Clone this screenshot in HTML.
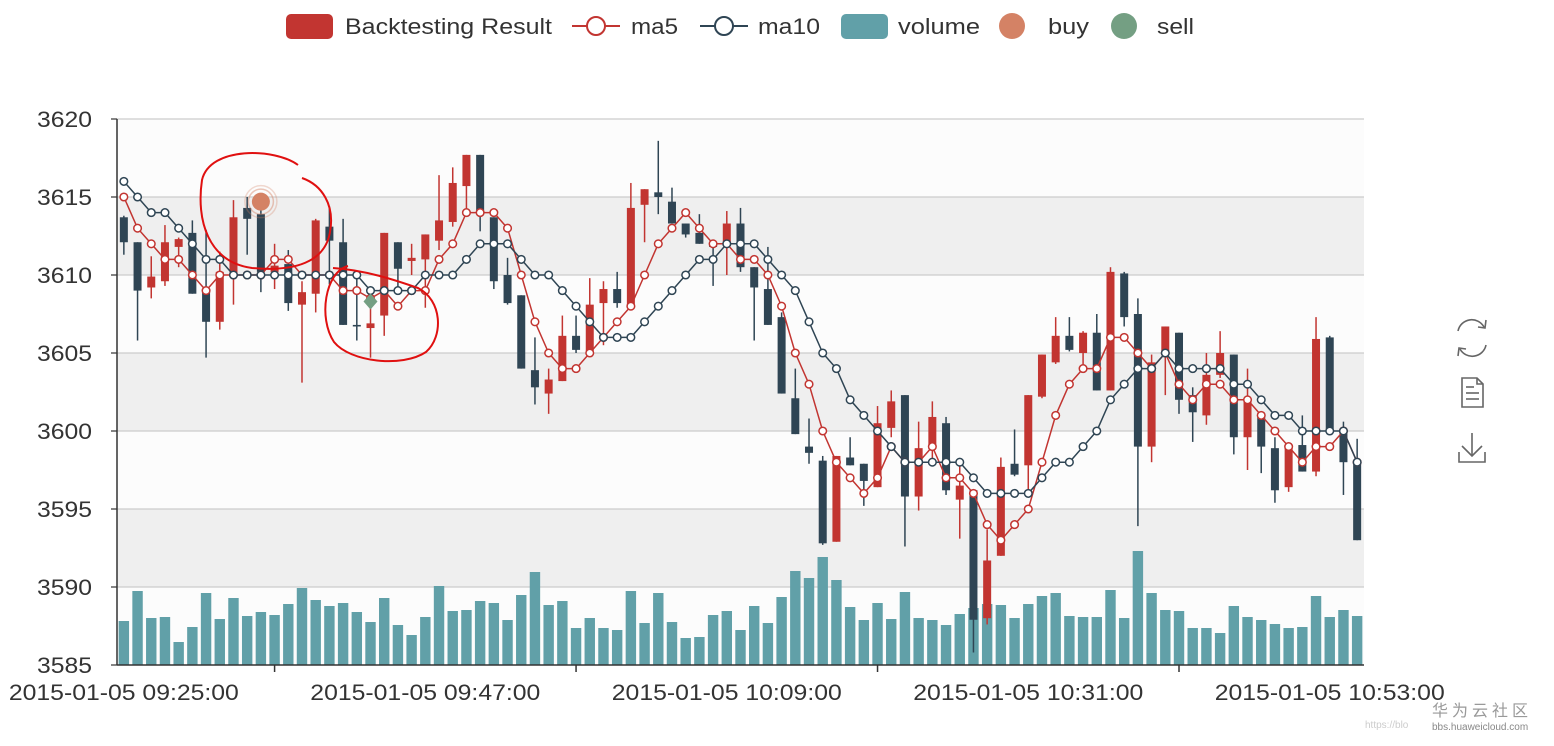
<!DOCTYPE html>
<html><head><meta charset="utf-8">
<style>
html,body{margin:0;padding:0;background:#fff;}
body{width:1554px;height:741px;overflow:hidden;font-family:"Liberation Sans","Noto Sans CJK SC",sans-serif;}
svg text{font-family:"Liberation Sans","Noto Sans CJK SC",sans-serif;}
</style></head>
<body>
<svg id="chart" width="1554" height="741" xmlns="http://www.w3.org/2000/svg">
  <g id="bands"></g>
  <g id="grid"></g>
  <g id="vol"></g>
  <g id="candles"></g>
  <g id="ma5"></g>
  <g id="ma10"></g>
  <g id="marks"></g>
  <g id="axes"></g>
  <g id="legend">
    <g>
      <rect x="286" y="14" width="47" height="25" rx="5" fill="#c23531"/>
      <text x="345" y="34" font-size="22" fill="#333" textLength="207" lengthAdjust="spacingAndGlyphs">Backtesting Result</text>
    </g>
    <g>
      <line x1="572" y1="26" x2="620" y2="26" stroke="#c23531" stroke-width="2"/>
      <circle cx="596" cy="26" r="9" fill="#fff" stroke="#c23531" stroke-width="2"/>
      <text x="631" y="34" font-size="22" fill="#333" textLength="47" lengthAdjust="spacingAndGlyphs">ma5</text>
    </g>
    <g>
      <line x1="700" y1="26" x2="748" y2="26" stroke="#2f4554" stroke-width="2"/>
      <circle cx="724" cy="26" r="9" fill="#fff" stroke="#2f4554" stroke-width="2"/>
      <text x="758" y="34" font-size="22" fill="#333" textLength="62" lengthAdjust="spacingAndGlyphs">ma10</text>
    </g>
    <g>
      <rect x="841" y="14" width="47" height="25" rx="5" fill="#61a0a8"/>
      <text x="898" y="34" font-size="22" fill="#333" textLength="82" lengthAdjust="spacingAndGlyphs">volume</text>
    </g>
    <g>
      <circle cx="1012" cy="26" r="13" fill="#d48265"/>
      <text x="1048" y="34" font-size="22" fill="#333" textLength="41" lengthAdjust="spacingAndGlyphs">buy</text>
    </g>
    <g>
      <circle cx="1124" cy="26" r="13" fill="#749f83"/>
      <text x="1157" y="34" font-size="22" fill="#333" textLength="37" lengthAdjust="spacingAndGlyphs">sell</text>
    </g>
  </g>
  <g fill="none" stroke="#666" stroke-width="1.6">
    <g>
      <path d="M1458 331 A14 14 0 0 1 1484 327"/><path d="M1486 320 L1485 328 L1478 327"/>
      <path d="M1486 345 A14 14 0 0 1 1460 349"/><path d="M1458 356 L1459 348 L1466 349"/>
    </g>
    <g>
      <path d="M1462 378 L1477 378 L1483 384 L1483 407 L1462 407 Z"/>
      <path d="M1477 378 L1477 384 L1483 384"/>
      <line x1="1466" y1="387" x2="1474" y2="387"/><line x1="1466" y1="393" x2="1479" y2="393"/><line x1="1466" y1="399" x2="1479" y2="399"/>
    </g>
    <g>
      <line x1="1472" y1="433" x2="1472" y2="456"/><path d="M1462 446 L1472 456 L1482 446"/>
      <path d="M1459 452 L1459 462 L1485 462 L1485 452"/>
    </g>
  </g>
  <g fill="none" stroke="#e01010" stroke-width="2">
    <path d="M298 165 C275 148 210 146 202 180 C196 220 208 262 252 268 C295 272 325 262 330 232 C335 205 322 185 302 178"/>
    <path d="M348 266 C325 272 318 318 334 342 C350 362 402 368 426 352 C444 336 442 300 418 288 C395 280 365 270 333 268"/>
  </g>
  <g>
    <text x="1432" y="716" font-size="16" fill="#999" letter-spacing="4">华为云社区</text>
    <text x="1365" y="728" font-size="10" fill="#ccc">https://blo</text>
    <text x="1432" y="730" font-size="10" fill="#888">bbs.huaweicloud.com</text>
  </g>
</svg>
<script>
// [open, close, low, high]
const ohlc = [
[3613.7,3612.1,3611.3,3613.8],[3612.1,3609.0,3605.8,3612.1],[3609.2,3609.9,3608.5,3611.2],[3609.6,3612.1,3609.3,3613.2],
[3611.8,3612.3,3610.5,3612.4],[3612.7,3608.8,3608.8,3613.5],[3609.1,3607.0,3604.7,3612.9],[3607.0,3610.2,3606.5,3611.5],
[3610.1,3613.7,3608.1,3614.8],[3614.3,3613.6,3611.3,3615.0],[3613.9,3610.2,3608.9,3614.2],[3610.2,3610.6,3609.1,3612.0],
[3610.7,3608.2,3607.7,3611.6],[3608.1,3608.9,3603.1,3609.6],[3608.8,3613.5,3607.6,3613.6],[3613.1,3612.2,3609.4,3614.4],
[3612.1,3606.8,3606.8,3613.6],[3606.8,3606.7,3605.8,3610.0],[3606.6,3606.9,3604.7,3608.5],[3607.4,3612.7,3606.1,3612.7],
[3612.1,3610.4,3609.0,3612.1],[3610.9,3611.1,3610.0,3612.0],[3611.0,3612.6,3607.9,3612.6],[3612.2,3613.5,3611.6,3616.4],
[3613.4,3615.9,3613.1,3616.9],[3615.7,3617.7,3614.1,3617.7],[3617.7,3614.1,3612.8,3617.7],[3613.7,3609.6,3609.1,3613.7],
[3610.0,3608.2,3608.1,3611.1],[3608.7,3604.0,3604.0,3608.7],[3603.9,3602.8,3601.7,3606.0],[3602.4,3603.3,3601.1,3604.0],
[3603.2,3606.1,3603.2,3607.4],[3606.1,3605.2,3605.0,3607.4],[3605.1,3608.1,3605.1,3609.8],[3608.2,3609.1,3605.5,3609.6],
[3609.1,3608.2,3607.9,3610.2],[3608.1,3614.3,3608.1,3615.9],[3614.5,3615.5,3612.1,3615.5],[3615.3,3615.0,3613.9,3618.6],
[3614.7,3613.3,3613.3,3615.6],[3613.3,3612.6,3612.4,3613.3],[3612.7,3612.0,3612.0,3613.9],[3612.0,3611.8,3609.3,3612.2],
[3612.0,3613.3,3610.0,3614.1],[3613.3,3610.5,3610.2,3614.3],[3610.5,3609.2,3605.8,3610.5],[3609.1,3606.8,3606.8,3611.8],
[3607.3,3602.4,3602.4,3607.6],[3602.1,3599.8,3599.8,3604.0],[3599.0,3598.6,3597.9,3600.8],[3598.1,3592.8,3592.7,3598.4],
[3592.9,3598.4,3592.9,3598.4],[3598.3,3597.8,3597.8,3599.6],[3597.9,3596.8,3595.2,3597.9],[3596.4,3600.5,3596.4,3601.6],
[3600.2,3601.9,3599.6,3602.6],[3602.3,3595.8,3592.6,3602.3],[3595.8,3598.9,3594.9,3600.6],[3599.0,3600.9,3597.9,3601.9],
[3600.5,3596.2,3595.9,3600.9],[3595.6,3596.5,3593.1,3598.2],[3596.2,3587.9,3585.8,3596.2],[3588.0,3591.7,3587.6,3593.7],
[3592.0,3597.7,3592.0,3598.3],[3597.9,3597.2,3597.1,3600.1],[3597.8,3602.3,3596.0,3602.3],[3602.2,3604.9,3602.1,3604.9],
[3604.4,3606.1,3604.3,3607.3],[3606.1,3605.2,3605.1,3607.3],[3605.0,3606.3,3604.2,3606.4],[3606.3,3602.6,3602.6,3607.5],
[3602.6,3610.2,3602.6,3610.5],[3610.1,3607.3,3606.7,3610.2],[3607.5,3599.0,3593.9,3608.5],[3599.0,3604.4,3598.0,3604.9],
[3604.9,3606.7,3602.3,3606.7],[3606.3,3602.0,3601.1,3606.3],[3602.3,3601.2,3599.3,3602.8],[3601.0,3603.6,3600.4,3605.0],
[3603.6,3605.0,3603.4,3606.4],[3604.9,3599.6,3598.5,3604.9],[3599.6,3602.1,3597.5,3604.0],[3601.1,3599.0,3597.3,3601.1],
[3598.9,3596.2,3595.4,3599.6],[3596.4,3599.1,3596.1,3599.1],[3599.1,3597.4,3597.4,3601.0],[3597.4,3605.9,3597.1,3607.3],
[3606.0,3600.1,3600.1,3606.1],[3600.1,3598.0,3595.9,3600.6],[3598.1,3593.0,3593.0,3599.5]
];
const ma5 = [3615,3613,3612,3611,3611,3610,3609,3610,3610,3610,3610,3611,3611,3610,3610,3610,3609,3609,3608.5,3609,
3608,3609,3609,3611,3612,3614,3614,3614,3613,3610,3607,3605,3604,3604,3605,3606,3607,3608,3610,3612,
3613,3614,3613,3612,3612,3611,3611,3610,3608,3605,3603,3600,3598,3597,3596,3597,3599,3598,3598,3599,
3597,3597,3596,3594,3593,3594,3595,3598,3601,3603,3604,3604,3606,3606,3605,3604,3605,3603,3602,3603,
3603,3602,3602,3601,3600,3599,3598,3599,3599,3600,3598];
const ma10 = [3616,3615,3614,3614,3613,3612,3611,3611,3610,3610,3610,3610,3610,3610,3610,3610,3610,3610,3609,3609,
3609,3609,3610,3610,3610,3611,3612,3612,3612,3611,3610,3610,3609,3608,3607,3606,3606,3606,3607,3608,
3609,3610,3611,3611,3612,3612,3612,3611,3610,3609,3607,3605,3604,3602,3601,3600,3599,3598,3598,3598,
3598,3598,3597,3596,3596,3596,3596,3597,3598,3598,3599,3600,3602,3603,3604,3604,3605,3604,3604,3604,
3604,3603,3603,3602,3601,3601,3600,3600,3600,3600,3598];
const volume = [44,74,47,48,23,38,72,46,67,49,53,50,61,77,65,59,62,53,43,67,40,30,48,79,54,55,64,62,45,70,
93,60,64,37,47,37,35,74,42,72,43,27,28,50,54,35,59,42,68,94,87,108,85,58,45,62,46,73,47,45,
40,51,57,61,60,47,61,69,72,49,48,48,75,47,114,72,55,54,37,37,32,59,48,45,41,37,38,69,48,55,49];
const yTicks = [3585,3590,3595,3600,3605,3610,3615,3620];
const buyPoints = [[10,3614.7]];
const sellPoints = [[18,3608.3]];
const startTime = [9,25];

const NS="http://www.w3.org/2000/svg";
const L=117,R=1364,T=119,B=665,YMIN=3585,YMAX=3620,VMAX=546;
const N=ohlc.length, bw=(R-L)/N;
const x=i=>L+(i+0.5)*bw;
const y=v=>B-(v-YMIN)/(YMAX-YMIN)*(B-T);
const vy=v=>B-v/VMAX*(B-T);
function mk(tag,attrs,parent){const e=document.createElementNS(NS,tag);for(const k in attrs)e.setAttribute(k,attrs[k]);parent.appendChild(e);return e;}
const g=id=>document.getElementById(id);
function label(i){let m=startTime[0]*60+startTime[1]+i;const hh=String(Math.floor(m/60)).padStart(2,'0'),mm=String(m%60).padStart(2,'0');return `2015-01-05 ${hh}:${mm}:00`;}

for(let k=0;k<yTicks.length-1;k++){
  const r=mk('rect',{x:L,y:y(yTicks[k+1]),width:R-L,height:y(yTicks[k])-y(yTicks[k+1]),fill:(k%2===0)?'#fcfcfc':'#efefef'},g('bands'));
  
  
}
yTicks.forEach(v=>{
  if(v!==YMIN){const l=mk('line',{x1:L,x2:R,y1:y(v),y2:y(v),stroke:'#ccc','stroke-width':1.2},g('grid'));
  
  }
  const t=mk('text',{x:37,y:y(v)+8,'font-size':22,fill:'#333',textLength:55,lengthAdjust:'spacingAndGlyphs'},g('axes'));
  t.textContent=v;
  
  
  mk('line',{x1:111,x2:L,y1:y(v),y2:y(v),stroke:'#333','stroke-width':1.2},g('axes'));
});
volume.forEach((v,i)=>{
  const r=mk('rect',{x:x(i)-bw*0.38,y:vy(v),width:bw*0.76,height:B-vy(v),fill:'#61a0a8'},g('vol'));
  
  
});
ohlc.forEach((d,i)=>{
  const up=d[1]>=d[0],c=up?'#c23531':'#2f4554';
  const grp=mk('g',{},g('candles'));
  
  
  mk('line',{x1:x(i),x2:x(i),y1:y(d[3]),y2:y(d[2]),stroke:c,'stroke-width':1.5},grp);
  const top=y(Math.max(d[0],d[1])),bot=y(Math.min(d[0],d[1]));
  mk('rect',{x:x(i)-4,y:top,width:8,height:Math.max(bot-top,1.5),fill:c},grp);
});
function drawLine(arr,color,id,name){
  const pts=arr.map((v,i)=>x(i)+','+y(v)).join(' ');
  mk('polyline',{points:pts,fill:'none',stroke:color,'stroke-width':1.5},g(id));
  arr.forEach((v,i)=>{
    const c=mk('circle',{cx:x(i),cy:y(v),r:3.8,fill:'#fff',stroke:color,'stroke-width':1.5},g(id));
    
    
  });
}
drawLine(ma10,'#2f4554','ma10','ma10-point');
drawLine(ma5,'#c23531','ma5','ma5-point');
buyPoints.forEach(p=>{
  const cx=x(p[0]),cy=y(p[1]);
  mk('circle',{cx,cy,r:16,fill:'none',stroke:'#d48265','stroke-opacity':0.3,'stroke-width':1.5},g('marks'));
  mk('circle',{cx,cy,r:12.5,fill:'none',stroke:'#d48265','stroke-opacity':0.45,'stroke-width':1.5},g('marks'));
  const c=mk('circle',{cx,cy,r:9,fill:'#d48265'},g('marks'));
  
  
});
sellPoints.forEach(p=>{
  const cx=x(p[0]),cy=y(p[1]);
  const d=mk('path',{d:`M${cx} ${cy-8} L${cx+7} ${cy} L${cx} ${cy+8} L${cx-7} ${cy} Z`,fill:'#749f83'},g('marks'));
  
  
});
mk('line',{x1:L,x2:L,y1:T,y2:B,stroke:'#333','stroke-width':1.5},g('axes'));
mk('line',{x1:L,x2:R,y1:B,y2:B,stroke:'#333','stroke-width':1.5},g('axes'));
for(let i=0;i<N;i+=22){
  const t=mk('text',{x:x(i)-115,y:700,'font-size':22,fill:'#333',textLength:230,lengthAdjust:'spacingAndGlyphs'},g('axes'));
  t.textContent=label(i);
  
  
  if(i+11<N) mk('line',{x1:x(i+11),x2:x(i+11),y1:B,y2:B+7,stroke:'#333','stroke-width':1.5},g('axes'));
}
</script>
</body></html>
